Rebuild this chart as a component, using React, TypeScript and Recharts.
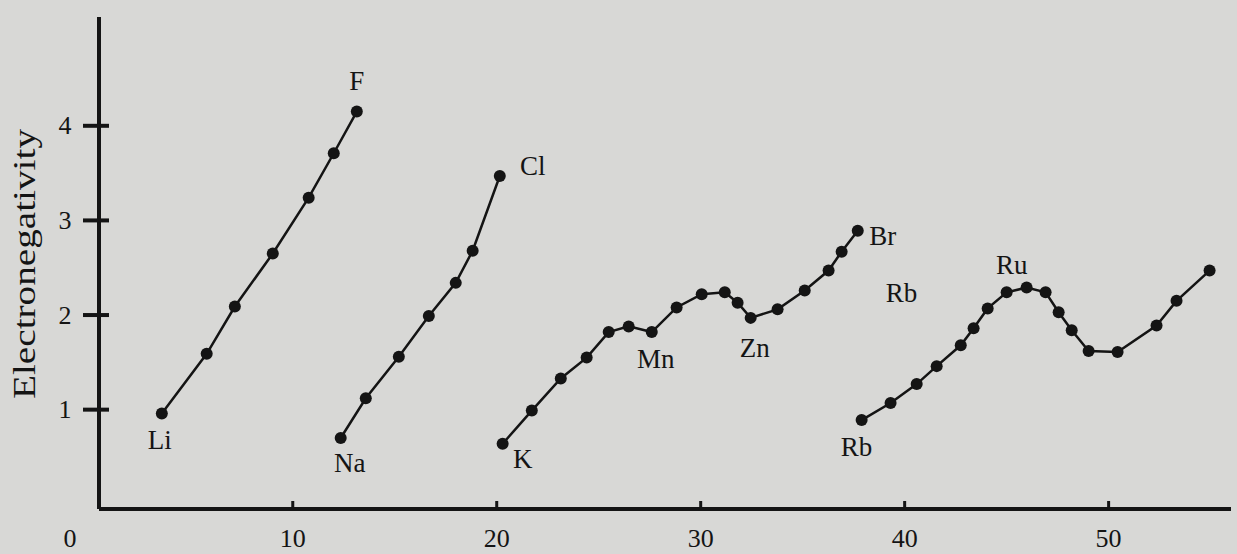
import React from 'react';
import { LineChart, Line, XAxis, YAxis, ReferenceDot, Label } from 'recharts';

// element symbols, x position (as read on the printed axis) and electronegativity
const period2Names = ['Li', 'Be', 'B', 'C', 'N', 'O', 'F'];
const period2Z = [3.58, 5.78, 7.16, 9.02, 10.78, 12.01, 13.14];
const period2EN = [0.96, 1.59, 2.09, 2.65, 3.24, 3.71, 4.15];

const period3Names = ['Na', 'Mg', 'Al', 'Si', 'P', 'S', 'Cl'];
const period3Z = [12.35, 13.58, 15.2, 16.67, 17.99, 18.82, 20.15];
const period3EN = [0.7, 1.12, 1.56, 1.99, 2.34, 2.68, 3.47];

const period4Names = ['K', 'Ca', 'Sc', 'Ti', 'V', 'Cr', 'Mn', 'Fe', 'Co', 'Ni', 'Cu', 'Zn', 'Ga', 'Ge', 'As', 'Se', 'Br'];
const period4Z = [20.29, 21.72, 23.14, 24.41, 25.49, 26.47, 27.6, 28.82, 30.05, 31.18, 31.81, 32.45, 33.77, 35.1, 36.27, 36.91, 37.7];
const period4EN = [0.64, 0.99, 1.33, 1.55, 1.82, 1.88, 1.82, 2.08, 2.22, 2.24, 2.13, 1.97, 2.06, 2.26, 2.47, 2.67, 2.89];

const period5Names = ['Rb', 'Sr', 'Y', 'Zr', 'Nb', 'Mo', 'Tc', 'Ru', 'Rh', 'Pd', 'Ag', 'Cd', 'In', 'Sn', 'Sb', 'Te', 'I'];
const period5Z = [37.89, 39.31, 40.59, 41.57, 42.75, 43.38, 44.07, 45.0, 45.98, 46.91, 47.55, 48.19, 49.02, 50.44, 52.35, 53.33, 54.95];
const period5EN = [0.89, 1.07, 1.27, 1.46, 1.68, 1.86, 2.07, 2.24, 2.29, 2.24, 2.03, 1.84, 1.62, 1.61, 1.89, 2.15, 2.47];

const labelled = ['Li', 'F', 'Na', 'Cl', 'K', 'Mn', 'Zn', 'Br', 'Rb', 'Ru'];
// loose "Rb" printed next to Br
const strayLabel = { z: 39.85, en: 2.23, name: 'Rb' };

const xTicks = [0.5, 10, 20, 30, 40, 50];
const yTicks = [1, 2, 3, 4];

const build = (names: string[], z: number[], en: number[]) =>
  names.map((name, i) => ({ name, z: z[i], en: en[i] }));

const series = [
  build(period2Names, period2Z, period2EN),
  build(period3Names, period3Z, period3EN),
  build(period4Names, period4Z, period4EN),
  build(period5Names, period5Z, period5EN),
];

const INK = '#141414';
const FONT = '"Liberation Serif", "Times New Roman", serif';

const labelOffset: Record<string, [number, number]> = {
  Li: [-2, 27], F: [0, -31], Na: [9, 25], Cl: [33, -10], K: [20, 15],
  Mn: [4, 27], Zn: [4, 30], Br: [25, 5], Rb: [-5, 27], Ru: [5, -27],
};

const renderDot = (props: any) => {
  const { cx, cy, payload } = props;
  const off = labelOffset[payload.name];
  return (
    <g key={`dot-${payload.name}`}>
      <circle cx={cx} cy={cy} r={6} fill={INK} />
      {labelled.includes(payload.name) && off && (
        <text x={cx + off[0]} y={cy + off[1]} textAnchor="middle" dominantBaseline="central"
          fontSize={27} fontFamily={FONT} fill={INK}>
          {payload.name}
        </text>
      )}
    </g>
  );
};

const XTick = (props: any) => {
  const { x, y, payload } = props;
  const first = payload.value < 1;
  return (
    <g>
      {!first && <line x1={x} x2={x} y1={y} y2={y - 8} stroke={INK} strokeWidth={3} />}
      <text x={first ? x - 29 : x} y={y + 29} textAnchor="middle" dominantBaseline="central"
        fontSize={26} fontFamily={FONT} fill={INK}>
        {first ? '0' : payload.value}
      </text>
    </g>
  );
};

const YTick = (props: any) => {
  const { x, y, payload } = props;
  return (
    <g>
      <line x1={x - 16} x2={x + 10} y1={y} y2={y} stroke={INK} strokeWidth={4} />
      <text x={x - 34} y={y} textAnchor="middle" dominantBaseline="central"
        fontSize={26} fontFamily={FONT} fill={INK}>
        {payload.value}
      </text>
    </g>
  );
};

const YTitle = () => (
  <text x={24} y={264} transform="rotate(-90, 24, 264)" textAnchor="middle" dominantBaseline="central"
    fontSize={31} fontFamily={FONT} fill={INK} textLength={270} lengthAdjust="spacingAndGlyphs">
    Electronegativity
  </text>
);

export default function App() {
  return (
    <div style={{ position: 'absolute', left: 0, top: 0, width: 1237, height: 554, background: '#d8d8d6' }}>
      <LineChart width={1237} height={554} margin={{ top: 17, right: 6, bottom: 0, left: 0 }}>
        <XAxis type="number" dataKey="z" domain={[0.5, 56]} ticks={xTicks} allowDataOverflow
          height={45} tickSize={0} tickMargin={0} tickLine={false}
          axisLine={{ stroke: INK, strokeWidth: 4 }} tick={<XTick />} />
        <YAxis type="number" dataKey="en" domain={[-0.05, 5.15]} ticks={yTicks} allowDataOverflow
          width={99} tickSize={0} tickMargin={0} tickLine={false}
          axisLine={{ stroke: INK, strokeWidth: 4 }} tick={<YTick />}>
          <Label content={<YTitle />} />
        </YAxis>
        {series.map((data, i) => (
          <Line key={i} data={data} dataKey="en" type="linear" stroke={INK} strokeWidth={2.5}
            dot={renderDot} activeDot={false} isAnimationActive={false} />
        ))}
        <ReferenceDot x={strayLabel.z} y={strayLabel.en} r={0}
          shape={(p: any) => (
            <text x={p.cx} y={p.cy} textAnchor="middle" dominantBaseline="central"
              fontSize={27} fontFamily={FONT} fill={INK}>
              {strayLabel.name}
            </text>
          )} />
      </LineChart>
    </div>
  );
}
